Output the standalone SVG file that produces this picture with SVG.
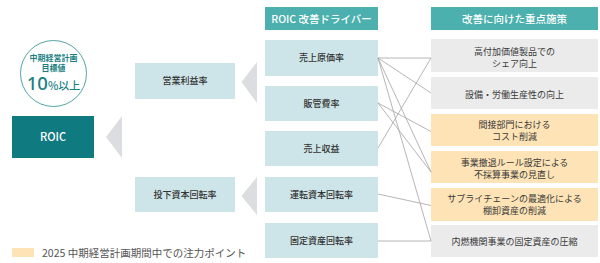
<svg xmlns="http://www.w3.org/2000/svg" width="600" height="263" viewBox="0 0 600 263">
<style>
text{font-family:"Noto Sans CJK JP","Noto Sans",sans-serif;text-anchor:middle}
.drv{fill:#cde5e8}
.gry{fill:#ebebec}
.org{fill:#fde3b5}
.tri{fill:#dcdde0}
.hd{fill:#4cb0ae}
.t{font-size:9px;fill:#333;font-weight:500}
.tm{font-size:9px;fill:#3a3a3a}
.ht{font-size:10.5px;fill:#fff;font-weight:500}
.ln{stroke:#a3a3a3;stroke-width:0.8;fill:none}
</style>
<rect width="600" height="263" fill="#fff"/>
<g id="target">
<circle cx="53.5" cy="73.5" r="33" fill="#fff" stroke="#2a8c8e" stroke-width="0.8"/>
<text x="53.5" y="61" font-size="8" font-weight="700" fill="#1a7f83">中期経営計画</text>
<text x="53.5" y="70.5" font-size="8" font-weight="700" fill="#1a7f83">目標値</text>
<text x="53.5" y="90" fill="#1a7f83" font-weight="500"><tspan font-size="18.5" font-family="Noto Sans">10</tspan><tspan font-size="11">%以上</tspan></text>
</g>
<g id="roic">
<rect x="12" y="116" width="82" height="42" fill="#0f7a80"/>
<text x="53" y="141" font-size="11" fill="#fff" font-weight="500" font-family="Noto Sans">ROIC</text>
</g>
<g id="arrows">
<polygon class="tri" points="106,137 122,116 122,158"/>
<polygon class="tri" points="241.5,82 257,62 257,103"/>
<polygon class="tri" points="241.5,196 257,177 257,215"/>
</g>
<g id="opm">
<rect class="drv" x="135" y="63" width="100" height="36"/>
<text class="t" x="185" y="84">営業利益率</text>
</g>
<g id="ict">
<rect class="drv" x="135" y="177" width="100" height="35"/>
<text class="t" x="185" y="197.5">投下資本回転率</text>
</g>
<g id="driver-header">
<rect class="hd" x="265" y="7" width="113" height="23"/>
<text class="ht" x="321.5" y="22.5">ROIC 改善ドライバー</text>
</g>
<g id="d1"><rect class="drv" x="265" y="40" width="113" height="36"/><text class="t" x="321.5" y="61">売上原価率</text></g>
<g id="d2"><rect class="drv" x="265" y="86" width="113" height="35"/><text class="t" x="321.5" y="106.5">販管費率</text></g>
<g id="d3"><rect class="drv" x="265" y="131" width="113" height="35"/><text class="t" x="321.5" y="151.5">売上収益</text></g>
<g id="d4"><rect class="drv" x="265" y="177" width="113" height="35"/><text class="t" x="321.5" y="197.5">運転資本回転率</text></g>
<g id="d5"><rect class="drv" x="265" y="223" width="113" height="35"/><text class="t" x="321.5" y="243.5">固定資産回転率</text></g>
<g id="measure-header">
<rect class="hd" x="431" y="7" width="167" height="23"/>
<text class="ht" x="514.5" y="22.5">改善に向けた重点施策</text>
</g>
<g id="m1"><rect class="gry" x="431" y="39" width="167" height="33"/><text class="tm" x="514.5" y="55">高付加価値製品での</text><text class="tm" x="514.5" y="67">シェア向上</text></g>
<g id="m2"><rect class="gry" x="431" y="77" width="167" height="32"/><text class="tm" x="514.5" y="97.5">設備・労働生産性の向上</text></g>
<g id="m3"><rect class="org" x="431" y="114" width="167" height="32"/><text class="tm" x="514.5" y="127.5">間接部門における</text><text class="tm" x="514.5" y="140">コスト削減</text></g>
<g id="m4"><rect class="org" x="431" y="151" width="167" height="32"/><text class="tm" x="514.5" y="165.5">事業撤退ルール設定による</text><text class="tm" x="514.5" y="177.5">不採算事業の見直し</text></g>
<g id="m5"><rect class="org" x="431" y="188" width="167" height="33"/><text class="tm" x="514.5" y="201.5">サプライチェーンの最適化による</text><text class="tm" x="514.5" y="214">棚卸資産の削減</text></g>
<g id="m6"><rect class="gry" x="431" y="225" width="167" height="32"/><text class="tm" x="514.5" y="244.5">内燃機関事業の固定資産の圧縮</text></g>
<g id="connectors">
<line class="ln" x1="378" y1="58" x2="431" y2="58"/>
<line class="ln" x1="378" y1="58" x2="431" y2="93"/>
<line class="ln" x1="378" y1="58" x2="431" y2="172"/>
<line class="ln" x1="378" y1="58" x2="431" y2="241"/>
<line class="ln" x1="378" y1="103" x2="431" y2="131.5"/>
<line class="ln" x1="378" y1="103" x2="431" y2="172"/>
<line class="ln" x1="378" y1="148" x2="431" y2="58"/>
<line class="ln" x1="378" y1="194" x2="431" y2="205.5"/>
<line class="ln" x1="378" y1="241" x2="431" y2="241"/>
</g>
<g id="legend">
<rect x="12" y="248" width="22" height="9" fill="#fde3b5"/>
<text x="42" y="256.5" font-size="10.5" fill="#555" style="text-anchor:start">2025 中期経営計画期間中での注力ポイント</text>
</g>
</svg>
